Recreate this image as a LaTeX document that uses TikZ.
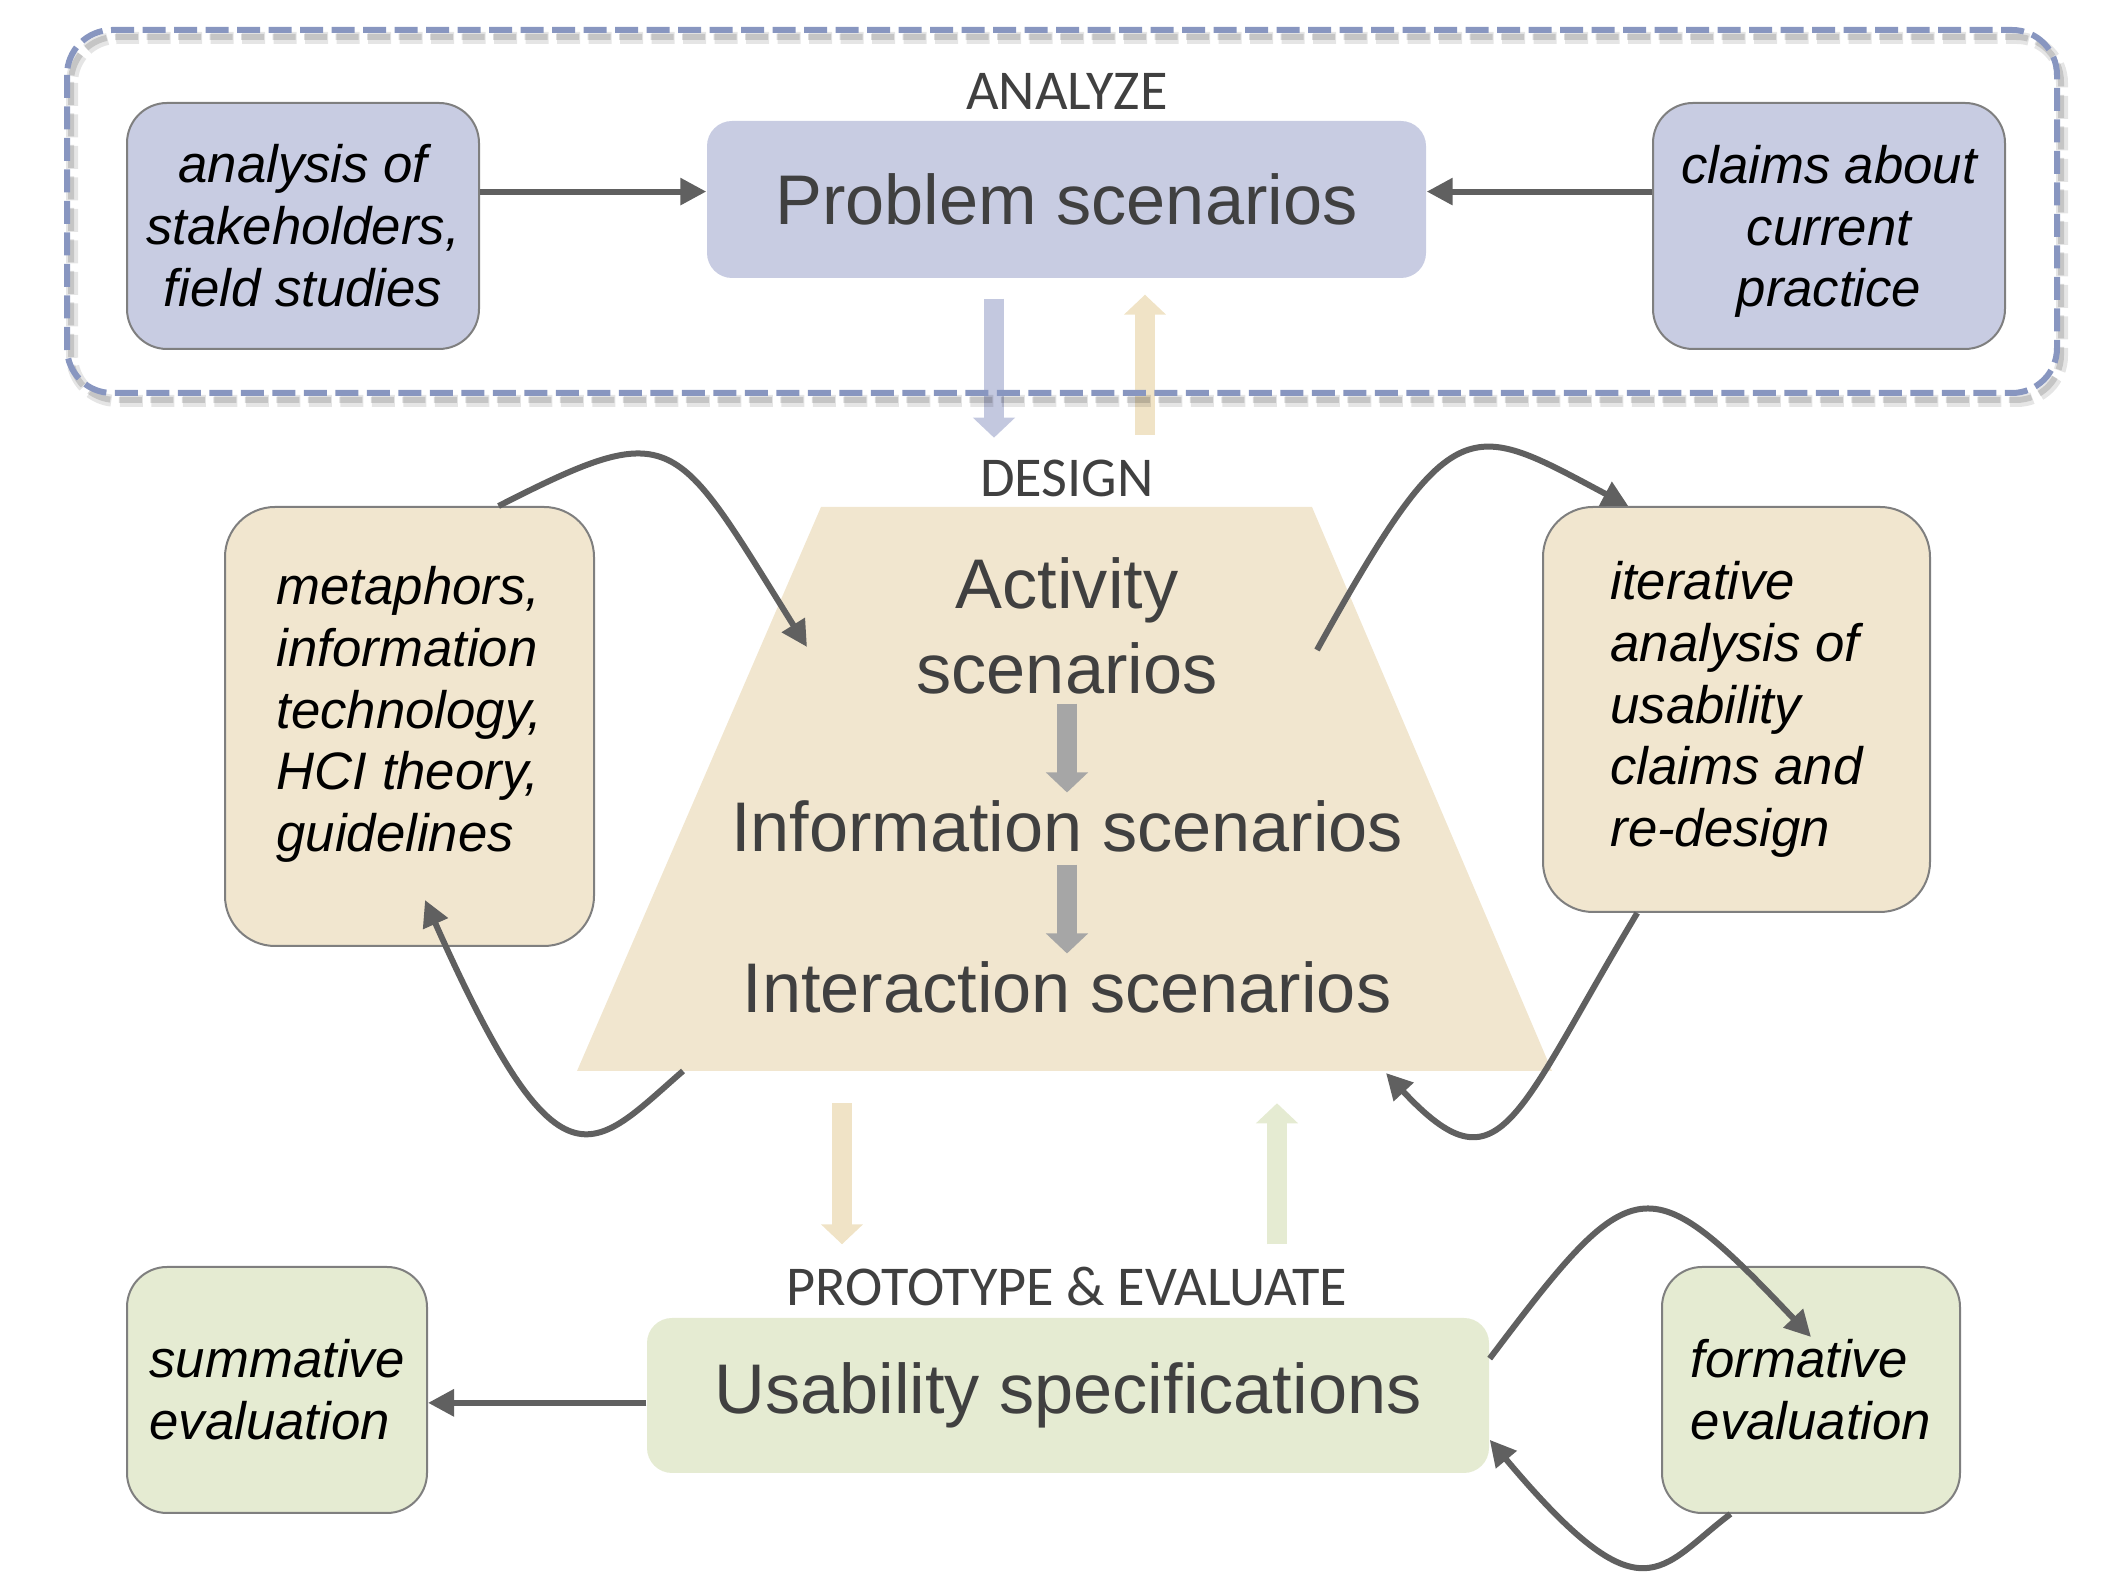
\documentclass[tikz,border=0pt]{standalone}
\usepackage{fontspec}
\setmainfont{Liberation Sans}
\newfontfamily\phasefont{Carlito}
\usetikzlibrary{arrows.meta}
\definecolor{lav}{HTML}{C8CCE2}
\definecolor{lavarrow}{HTML}{C3C8DF}
\definecolor{beige}{HTML}{F1E6CF}
\definecolor{tanarrow}{HTML}{F0E3C6}
\definecolor{sage}{HTML}{E5EBD2}
\definecolor{dashblue}{HTML}{8896C0}
\definecolor{arrowgray}{HTML}{606060}
\definecolor{boxline}{HTML}{7F7F7F}
\definecolor{txtgray}{HTML}{404040}

\begin{document}
\begin{tikzpicture}
[x=0.1mm, y=0.1mm,
every edge/.append style={draw=arrowgray, line width=0.6mm, -{Triangle[length=2.6mm,width=2.6mm]}},
inbox/.style={draw=boxline, line width=0.2mm, rounded corners=4mm, inner sep=0pt,
  font=\itshape\fontsize{15}{17.6}\selectfont},
scen/.style={text=txtgray, inner sep=0pt, font=\fontsize{20}{24}\selectfont},
phase/.style={text=txtgray, anchor=base, font=\phasefont\fontsize{16}{19}\selectfont},
block/.style={line width=2mm, -{Triangle[length=2mm,width=4.1mm]}},
frameline/.style={line width=0.6mm, dash pattern=on 2.3mm off 0.85mm, rounded corners=4.5mm},
]
\useasboundingbox (0,0) rectangle (2104,-1576);

% analyze
\node[inbox, fill=lav, minimum width=35.2mm, minimum height=24.6mm, align=center] (ana) at (303,-226) {analysis of\\stakeholders,\\field studies};
\node[inbox, fill=lav, minimum width=35.2mm, minimum height=24.6mm, text depth=0mm, align=center] (claims) at (1829,-226) {claims about\\current\\practice};
\node[scen, fill=lav, rounded corners=2.5mm, minimum width=71.9mm, minimum height=15.7mm] (prob) at (1066.5,-199.5) {Problem scenarios};
\node[phase] (analyze) at (1067,-110) {ANALYZE};

% design
\fill[beige] (577,-1071) -- (821,-507) -- (1312,-507) -- (1552,-1071) -- cycle;
\coordinate (actin) at (807,-647);
\coordinate (actout) at (1317,-650);
\coordinate (trapout) at (683,-1071);
\coordinate (metain) at (425,-900);
\coordinate (trapin) at (1386,-1073);
\node[phase] (design) at (1067,-497) {DESIGN};
\node[scen, align=center] (act) at (1067,-626) {Activity\\scenarios};
\node[scen] (info) at (1067,-826) {Information scenarios};
\node[scen] (inter) at (1067,-987) {Interaction scenarios};
\node[inbox, fill=beige, rounded corners=5mm, minimum width=36.9mm, minimum height=43.9mm, text depth=3.5mm, align=left] (meta) at (409.5,-726.5) {metaphors,\\information\\technology,\\HCI theory,\\guidelines};
\node[inbox, fill=beige, rounded corners=5mm, minimum width=38.7mm, minimum height=40.5mm, align=left] (iter) at (1736.5,-709.5) {iterative\\analysis of\\usability\\claims and\\re-design};

% prototype & evaluate
\coordinate (formin) at (1811,-1337);
\node[phase] (proto) at (1067,-1306) {PROTOTYPE \& EVALUATE};
\node[scen, fill=sage, rounded corners=2.5mm, minimum width=84.2mm, minimum height=15.5mm] (usab) at (1068,-1395.5) {Usability specifications};
\node[inbox, fill=sage, minimum width=30mm, minimum height=24.6mm, align=left] (summ) at (277,-1390) {summative\\evaluation};
\node[inbox, fill=sage, minimum width=29.8mm, minimum height=24.6mm, align=left] (form) at (1811,-1390) {formative\\evaluation};

\draw[block, lavarrow] ([xshift=-7.25mm,yshift=-2mm]prob.south) -- ++(0,-139);
\draw[block, tanarrow] ([xshift=7.85mm,yshift=-15.6mm]prob.south) -- ++(0,140);
\draw[block, tanarrow] ([xshift=-22.6mm,yshift=21.4mm]usab.north) -- ++(0,-141);
\draw[block, sage] ([xshift=20.9mm,yshift=7.3mm]usab.north) -- ++(0,141);
\draw[block, black!35] ([yshift=-0.9mm]act.south) -- ([yshift=0.7mm]info.north);
\draw[block, black!35] ([yshift=-1.2mm]info.south) -- ([yshift=0.7mm]inter.north);

\draw[frameline, black, opacity=0.10, line width=1.2mm] (72,-38) rectangle (2062,-401);
\draw[frameline, black, opacity=0.14] (71,-37) rectangle (2061,-400);
\draw[frameline, dashblue] (67,-30) rectangle (2057,-393);

\draw (ana.11) edge (ana.11 -| prob.west);
\draw (claims.169) edge (claims.169 -| prob.east);
\draw (usab.181) edge (usab.181 -| summ.east);

\draw (meta.68) edge[out=27, in=122, out looseness=1.5, in looseness=1.9] (actin);
\draw (actout) edge[out=61, in=152, out looseness=2.1, in looseness=1.35] (iter.118);
\draw (trapout) edge[out=221, in=-66, out looseness=1, in looseness=2.75] (metain);
\draw (iter.244) edge[out=239, in=-47, out looseness=2.04, in looseness=1.44] (trapin);
\draw (usab.5) edge[out=53, in=133.5, looseness=1.9] (formin);
\draw (form.237) edge[out=217, in=-50, out looseness=0.91, in looseness=2.43] (usab.-6);
\end{tikzpicture}
\end{document}
